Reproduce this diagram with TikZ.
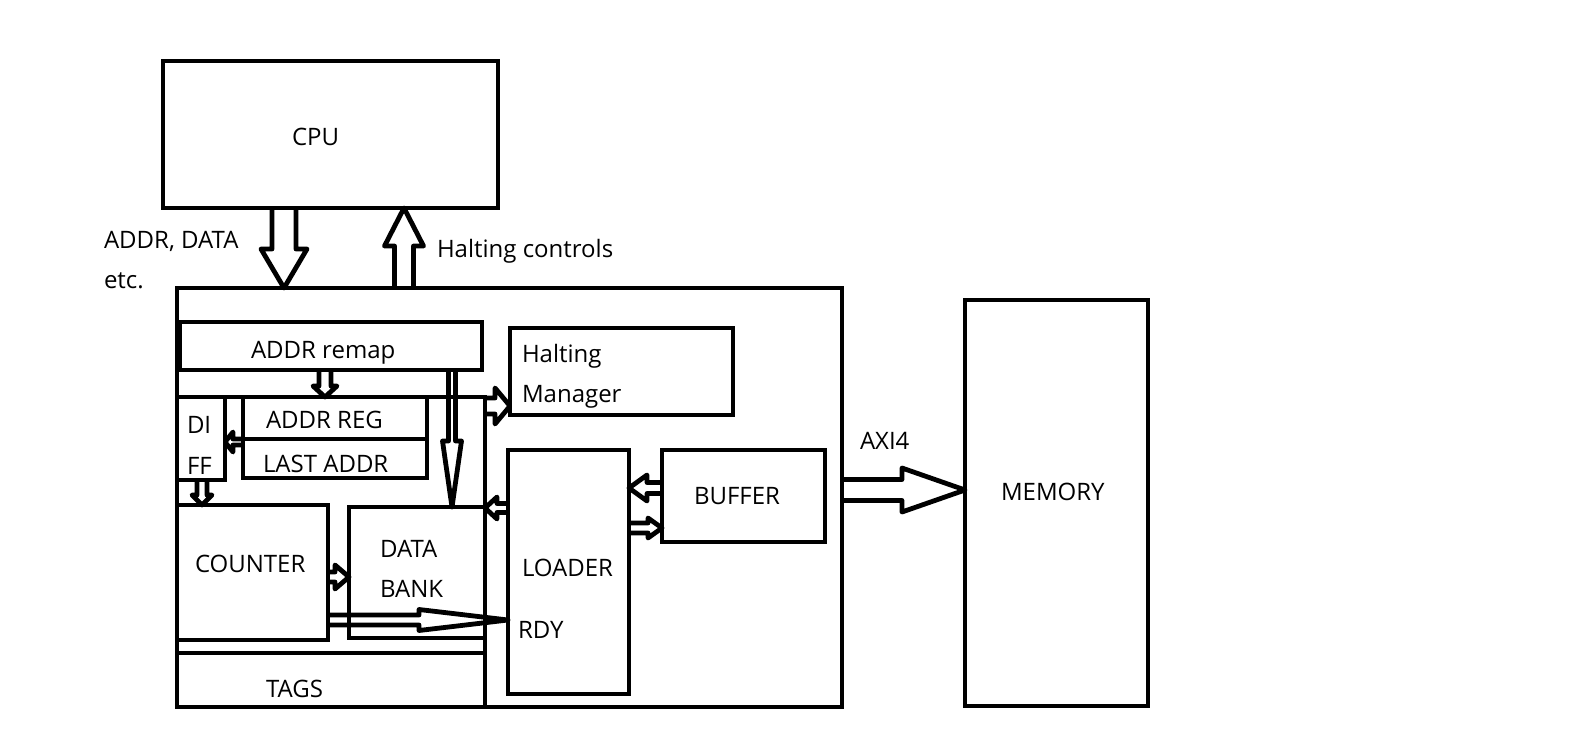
\documentclass[tikz,border=0pt]{standalone}
\usepackage{fontspec}
\setmainfont{Open Sans}
\usetikzlibrary{calc}
\tikzset{
  box/.style={draw, line width=4.8pt, inner sep=0pt, outer sep=0pt},
  txt/.style={inner sep=0pt, outer sep=0pt, anchor=base west, font=\fontsize{24}{28}\selectfont},
  wire/.style={line width=4.8pt},
  barrow/.style n args={3}{line width=4.8pt, line join=round,
    to path={
      ($(\tikztostart)!#1pt!90:(\tikztotarget)$)
      -- ($($(\tikztotarget)!#3pt!(\tikztostart)$)!#1pt!90:(\tikztotarget)$)
      -- ($($(\tikztotarget)!#3pt!(\tikztostart)$)!#2pt!90:(\tikztotarget)$)
      -- (\tikztotarget)
      -- ($($(\tikztotarget)!#3pt!(\tikztostart)$)!#2pt!-90:(\tikztotarget)$)
      -- ($($(\tikztotarget)!#3pt!(\tikztostart)$)!#1pt!-90:(\tikztotarget)$)
      -- ($(\tikztostart)!#1pt!-90:(\tikztotarget)$)
    }}
}
\newcommand\mkbox[5]{\node[box, minimum width={((#4)-(#2))*1pt}, minimum height={((#5)-(#3))*1pt}] (#1) at ({((#2)+(#4))/2},{((#3)+(#5))/2}) {};}
\begin{document}
\begin{tikzpicture}[x=1pt,y=-1pt]
\fill[white] (0,0) rectangle (1590,746);
\useasboundingbox (0,0) rectangle (1590,746);
% boxes
\mkbox{cpu}{163}{61}{498}{208}
\mkbox{main}{177}{288}{842}{707}
\mkbox{remap}{180}{322}{482}{370}
\mkbox{hm}{510}{328}{733}{415}
\mkbox{diff}{177}{397}{225}{480}
\mkbox{areg}{243}{397}{427}{439}
\mkbox{laddr}{243}{439}{427}{478}
\mkbox{counter}{177}{505}{328}{640}
\mkbox{databank}{349}{507}{485}{638}
\mkbox{tags}{177}{653}{485}{707}
\mkbox{loader}{508}{450}{629}{694}
\mkbox{buffer}{662}{450}{825}{542}
\mkbox{memory}{965}{300}{1148}{706}
% bus lines
\coordinate (jn) at (485,397);
\draw[wire] (diff.north west) -- (jn) -- (tags.south east);
% texts
\node[txt] (tcpu) at (292,146) {CPU};
\node[txt] (tad) at (104,248) {ADDR, DATA};
\node[txt] (tetc) at (104,288) {etc.};
\node[txt] (thc) at (437,258) {Halting controls};
\node[txt] (tremap) at (251,358) {ADDR remap};
\node[txt] (th1) at (522,362) {Halting};
\node[txt] (th2) at (522,402) {Manager};
\node[txt] (tareg) at (266,428) {ADDR REG};
\node[txt] (tladdr) at (263,472) {LAST ADDR};
\node[txt] (td1) at (187,433) {DI};
\node[txt] (td2) at (187,474) {FF};
\node[txt] (tcnt) at (195,572) {COUNTER};
\node[txt] (tdb1) at (380,557) {DATA};
\node[txt] (tdb2) at (380,597) {BANK};
\node[txt] (ttags) at (266,697) {TAGS};
\node[txt] (tload) at (522,576) {LOADER};
\node[txt] (trdy) at (518,638) {RDY};
\node[txt] (tbuf) at (694,504) {BUFFER};
\node[txt] (taxi) at (860,449) {AXI4};
\node[txt] (tmem) at (1001,500) {MEMORY};
% block arrows
\draw[barrow={12}{23}{39}] (cpu.south -| 284,0) to (main.north -| 284,0);
\draw[barrow={9.5}{19.5}{38}] (main.north -| 404,0) to (cpu.south -| 404,0);
\draw[barrow={6}{12}{11}] (remap.south -| 325,0) to (areg.north -| 325,0);
\draw[barrow={3.5}{9.5}{66}] (remap.south -| 452,0) to (databank.north -| 452,0);
\draw[barrow={8}{18}{15}] (jn |- 0,406) to (hm.west |- 0,406);
\draw[barrow={3}{10}{8}] (laddr.west |- 0,442) to (diff.east |- 0,442);
\draw[barrow={5}{10}{10}] (diff.south -| 202,0) to (counter.north -| 202,0);
\draw[barrow={5}{12}{14}] (counter.east |- 0,577) to (databank.west |- 0,577);
\draw[barrow={5}{10.5}{89}] (counter.east |- 0,620) to (loader.west |- 0,620);
\draw[barrow={4.5}{11}{12}] (loader.west |- 0,508) to (jn |- 0,508);
\draw[barrow={5.5}{13}{18}] (buffer.west |- 0,488) to (loader.east |- 0,488);
\draw[barrow={5}{10}{14}] (loader.east |- 0,528) to (buffer.west |- 0,528);
\draw[barrow={10.5}{22}{63}] (main.east |- 0,490) to (memory.west |- 0,490);
\end{tikzpicture}
\end{document}
